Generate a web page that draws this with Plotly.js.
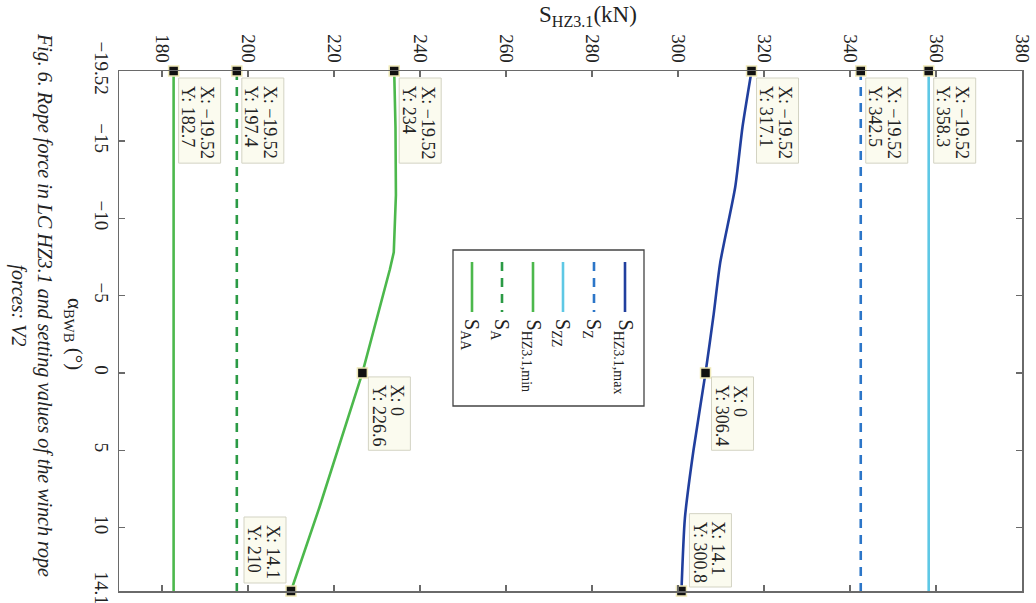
<!DOCTYPE html>
<html>
<head>
<meta charset="utf-8">
<script src="https://cdn.plot.ly/plotly-3.0.1.min.js"></script>
<style>
  html, body { margin: 0; padding: 0; background: #ffffff; }
  #chart { width: 1036px; height: 603px; }
</style>
</head>
<body>
<div id="chart"></div>
<script>
// Rope force S_HZ3.1 in load case HZ3.1 over the boom angle α_BWB,
// together with the winch setting values S_AA, S_A, S_Z and S_ZZ.

// constant setting values, drawn over the full angle range
const alphaRange = [-19.52, 14.1];
const sAA = [182.7, 182.7];
const sA  = [197.4, 197.4];
const sZ  = [342.5, 342.5];
const sZZ = [358.3, 358.3];

// minimum rope force
const alphaMin = [-19.52, -15.9, -11.5, -7.8, -6.7, 0, 8.7, 14.1];
const sHZmin   = [234, 234.3, 234.4, 233.9, 233.0, 226.6, 216.6, 210];

// maximum rope force
const alphaMax = [-19.52, -15.9, -12, -7.1, -3.8, 0, 5, 9.4, 14.1];
const sHZmax   = [317.1, 315.0, 313.3, 309.8, 308.3, 306.4, 303.6, 301.6, 300.8];

// axis ticks
const forceTicks = [180, 200, 220, 240, 260, 280, 300, 320, 340, 360, 380];
const angleTicks = [-19.52, -15, -10, -5, 0, 5, 10, 14.1];

// legend labels
const labelAA = 'S<sub>AA</sub>';
const labelA = 'S<sub>A</sub>';
const labelMin = 'S<sub>HZ3.1,min</sub>';
const labelZZ = 'S<sub>ZZ</sub>';
const labelZ = 'S<sub>Z</sub>';
const labelMax = 'S<sub>HZ3.1,max</sub>';

// ---------------------------------------------------------------
const FIG_W = 1036, FIG_H = 603;
const M = { l: 119, r: 14, t: 71, b: 12 };
const PW = FIG_W - M.l - M.r, PH = FIG_H - M.t - M.b;
const px2x = px => (px - M.l) / PW;
const px2y = py => 1 - (py - M.t) / PH;

const SERIF = '"Liberation Serif", "Times New Roman", serif';
const minus = v => String(v).replace('-', '\u2212');

const styles = {
  AA:  { color: '#4cb84c', width: 2.6, dash: 'solid' },
  A:   { color: '#2b9a45', width: 2.6, dash: '9px,7px' },
  MIN: { color: '#4cb84c', width: 2.6, dash: 'solid' },
  ZZ:  { color: '#5ec8e5', width: 2.6, dash: 'solid' },
  Z:   { color: '#2c76c8', width: 2.6, dash: '9px,7px' },
  MAX: { color: '#213f9e', width: 2.6, dash: 'solid' }
};

const series = [
  { key: 'AA',  x: sAA,    y: alphaRange, label: labelAA },
  { key: 'A',   x: sA,     y: alphaRange, label: labelA },
  { key: 'MIN', x: sHZmin, y: alphaMin,   label: labelMin },
  { key: 'ZZ',  x: sZZ,    y: alphaRange, label: labelZZ },
  { key: 'Z',   x: sZ,     y: alphaRange, label: labelZ },
  { key: 'MAX', x: sHZmax, y: alphaMax,   label: labelMax, spline: true }
];

const traces = series.map(s => ({
  type: 'scatter', mode: 'lines', x: s.x, y: s.y, name: s.key,
  line: Object.assign({}, styles[s.key], s.spline ? { shape: 'spline', smoothing: 0.6 } : {}),
  hoverinfo: 'skip', showlegend: false
}));

// data tips: series key, point index, box placement
const tips = [
  { key: 'AA', i: 0, place: 'rb' },
  { key: 'A', i: 0, place: 'rb' },
  { key: 'MIN', i: 0, place: 'rb' },
  { key: 'MAX', i: 0, place: 'rb' },
  { key: 'Z', i: 0, place: 'rb' },
  { key: 'ZZ', i: 0, place: 'rb' },
  { key: 'MIN', i: 5, place: 'rm' },
  { key: 'MAX', i: 5, place: 'rm' },
  { key: 'MIN', i: 7, place: 'lt' },
  { key: 'MAX', i: 8, place: 'rt' }
];

const TIP_FONT = 18;
const ctx = document.createElement('canvas').getContext('2d');
ctx.font = TIP_FONT + 'px "Liberation Serif"';
const textLen = s => ctx.measureText(s).width;

const shapes = [];
const annotations = [];
const tipX = [], tipY = [];

tips.forEach(t => {
  const s = series.find(d => d.key === t.key);
  const xv = s.x[t.i], yv = s.y[t.i];
  tipX.push(xv); tipY.push(yv);
  const l1 = 'X: ' + minus(yv);
  const l2 = 'Y: ' + minus(xv);
  const W = 42;
  const L = Math.max(textLen(l1), textLen(l2)) + 12;
  let left, top;
  if (t.place === 'rb') { left = 5; top = 7; }
  else if (t.place === 'rm') { left = 6; top = 4; }
  else if (t.place === 'lt') { left = -5 - W; top = -8 - L; }
  else { left = 8; top = -4 - L; }
  shapes.push({
    type: 'rect', xref: 'x', yref: 'y', xsizemode: 'pixel', ysizemode: 'pixel',
    xanchor: xv, yanchor: yv,
    x0: left, x1: left + W, y0: -top, y1: -(top + L),
    fillcolor: '#fbfbef', line: { color: '#d3d3c3', width: 1 }, layer: 'above'
  });
  [[l1, 29], [l2, 10]].forEach(([txt, cx]) => {
    annotations.push({
      xref: 'x', yref: 'y', x: xv, y: yv, showarrow: false,
      text: txt, textangle: 90, xanchor: 'center', yanchor: 'top',
      xshift: left + cx, yshift: -(top + 6),
      font: { family: SERIF, size: TIP_FONT, color: '#222' }
    });
  });
});

// markers at the data tips
traces.push({
  type: 'scatter', mode: 'markers', x: tipX, y: tipY, hoverinfo: 'skip', showlegend: false,
  cliponaxis: false,
  marker: { symbol: 'square', size: 10, color: '#111111', line: { color: '#efe9b8', width: 1.5 } }
});

// legend (drawn rotated, like the rest of the figure)
shapes.push({
  type: 'rect', xref: 'paper', yref: 'paper',
  x0: px2x(453), x1: px2x(644), y0: px2y(250), y1: px2y(406),
  fillcolor: '#ffffff', line: { color: '#444444', width: 1.3 }, layer: 'above'
});
const legendX = [472, 502, 533, 563, 594, 625];
series.forEach((s, k) => {
  const px = legendX[k];
  shapes.push({
    type: 'line', xref: 'paper', yref: 'paper',
    x0: px2x(px), x1: px2x(px), y0: px2y(262), y1: px2y(312),
    line: { color: styles[s.key].color, width: styles[s.key].width, dash: styles[s.key].dash }, layer: 'above'
  });
  annotations.push({
    xref: 'paper', yref: 'paper', x: px2x(px - 1), y: px2y(317), showarrow: false,
    text: s.label, textangle: 90, xanchor: 'center', yanchor: 'top',
    font: { family: SERIF, size: 20, color: '#222' }
  });
});

// axis titles
annotations.push({
  xref: 'paper', yref: 'paper', x: px2x(588), y: px2y(16), showarrow: false,
  text: 'S<sub>HZ3.1</sub>(kN)', xanchor: 'center', yanchor: 'middle',
  font: { family: SERIF, size: 23, color: '#222' }
});
annotations.push({
  xref: 'paper', yref: 'paper', x: px2x(74), y: px2y(334), showarrow: false,
  text: 'α<sub>BWB</sub> (°)', textangle: 90, xanchor: 'center', yanchor: 'middle',
  font: { family: SERIF, size: 21, color: '#222' }
});

// figure caption
annotations.push({
  xref: 'paper', yref: 'paper', x: px2x(32), y: px2y(305), showarrow: false,
  text: '<i>Fig. 6. Rope force in LC HZ3.1 and setting values of the winch rope<br>forces: V2</i>',
  textangle: 90, xanchor: 'center', yanchor: 'middle', align: 'center',
  font: { family: SERIF, size: 20, color: '#222' }
});

const axisCommon = {
  showgrid: false, zeroline: false,
  showline: true, linecolor: '#6a6a6a', linewidth: 1.5, mirror: 'ticks',
  ticks: 'inside', ticklen: 6, tickwidth: 1.2, tickcolor: '#6a6a6a',
  tickangle: 90, ticklabeloverflow: 'allow',
  tickfont: { family: SERIF, size: 19, color: '#222' }
};

const layout = {
  width: FIG_W, height: FIG_H,
  margin: M,
  paper_bgcolor: '#ffffff', plot_bgcolor: '#ffffff',
  showlegend: false,
  xaxis: Object.assign({}, axisCommon, {
    range: [170, 380], side: 'top',
    tickmode: 'array', tickvals: forceTicks, ticktext: forceTicks.map(minus)
  }),
  yaxis: Object.assign({}, axisCommon, {
    range: [14.1, -19.52],
    tickmode: 'array', tickvals: angleTicks, ticktext: angleTicks.map(minus)
  }),
  shapes: shapes,
  annotations: annotations
};

Plotly.newPlot('chart', traces, layout, { staticPlot: true, displayModeBar: false });
</script>
</body>
</html>
